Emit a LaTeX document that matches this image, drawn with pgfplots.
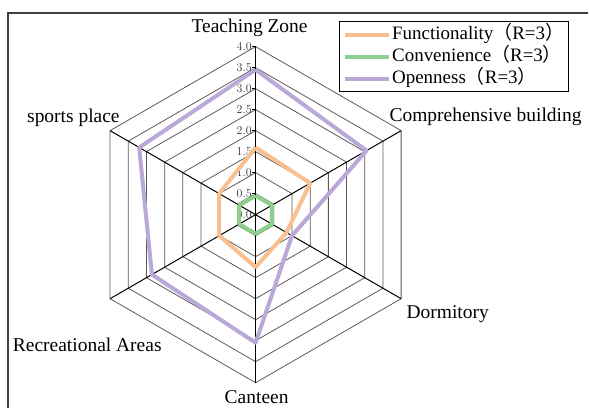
\documentclass[border=0pt]{standalone}
\usepackage{fontspec}
\setmainfont{Liberation Serif}
\newfontfamily\cjk{Noto Sans CJK SC}
\usepackage{pgfplots}
\pgfplotsset{compat=1.18}
\usepgfplotslibrary{polar}
\definecolor{cF}{RGB}{249,191,143}
\definecolor{cC}{RGB}{142,208,139}
\definecolor{cO}{RGB}{185,168,216}
\begin{document}
\begin{tikzpicture}
\begin{axis}[
  x=42.075pt, y=42.075pt,
  xmin=-6.0844, xmax=7.9144, ymin=-4.6108, ymax=5.1099,
  hide axis, clip=false,
  legend style={at={(axis cs:1.991,4.610)}, anchor=north west, draw=black, line width=0.9pt,
    font=\fontsize{19}{22}\selectfont, inner sep=3pt, row sep=1.5pt,
    nodes={inner sep=1.5pt, text height=13.5pt, text depth=4pt}},
  legend cell align=left,
  legend image code/.code={\draw[#1] (0pt,0pt) -- (44pt,0pt);},
]
% invisible bounding box
\path (axis cs:-6.0844,-4.6108) rectangle (axis cs:7.9144,5.1099);
% hexagon rings
\pgfplotsinvokeforeach{0.5,1.0,1.5,2.0,2.5,3.0,3.5,4.0}{
  \addplot[forget plot, data cs=polar, black!65, line width=0.8pt]
    coordinates {(90,#1) (30,#1) (-30,#1) (-90,#1) (-150,#1) (150,#1) (90,#1)};
}
% radial axes
\pgfplotsinvokeforeach{90,30,-30,-90,-150,150}{
  \addplot[forget plot, data cs=polar, black, line width=1pt]
    coordinates {(#1,0) (#1,4)};
}
% tick marks on the vertical axis
\pgfplotsinvokeforeach{0.5,1.0,1.5,2.0,2.5,3.0,3.5,4.0}{
  \draw[black, line width=0.7pt] (axis cs:-0.09,#1) -- (axis cs:0,#1);
}
% tick labels
\pgfplotsinvokeforeach{0.0,0.5,1.0,1.5,2.0,2.5,3.0,3.5,4.0}{
  \node[anchor=east, inner sep=0pt, font=\fontsize{13}{15}\selectfont, black!80]
    at (axis cs:-0.09,#1) {\pgfmathprintnumber[fixed, fixed zerofill, precision=1]{#1}};
}
% data series
\addplot[data cs=polar, cF, line width=4pt, line join=round]
  coordinates {(90,1.6) (30,1.5) (-30,0.85) (-90,1.25) (-150,1.0) (150,1.0) (90,1.6)};
\addlegendentry{Functionality{\cjk （}R=3{\cjk ）}}
\addplot[data cs=polar, cC, line width=4pt, line join=round]
  coordinates {(90,0.45) (30,0.45) (-30,0.45) (-90,0.45) (-150,0.45) (150,0.45) (90,0.45)};
\addlegendentry{Convenience{\cjk （}R=3{\cjk ）}}
\addplot[data cs=polar, cO, line width=4pt, line join=round]
  coordinates {(90,3.45) (30,3.05) (-30,1.0) (-90,3.05) (-150,2.85) (150,3.2) (90,3.45)};
\addlegendentry{Openness{\cjk （}R=3{\cjk ）}}
% category labels
\begin{scope}[every node/.style={font=\fontsize{19.5}{22}\selectfont, inner sep=0pt}]
\node[anchor=center] at (axis cs:-0.143,4.444) {Teaching Zone};
\node[anchor=west] at (axis cs:3.185,2.329) {Comprehensive building};
\node[anchor=west] at (axis cs:3.589,-2.377) {Dormitory};
\node[anchor=center] at (axis cs:0.024,-4.349) {Canteen};
\node[anchor=east] at (axis cs:-2.234,-3.090) {Recreational Areas};
\node[anchor=east] at (axis cs:-3.232,2.305) {sports place};
\end{scope}
% outer frame (left and top edges)
\draw[black!75, line width=1.8pt] (axis cs:-5.894,-4.6108) -- (axis cs:-5.894,4.801) -- (axis cs:7.9144,4.801);
\end{axis}
\end{tikzpicture}
\end{document}
